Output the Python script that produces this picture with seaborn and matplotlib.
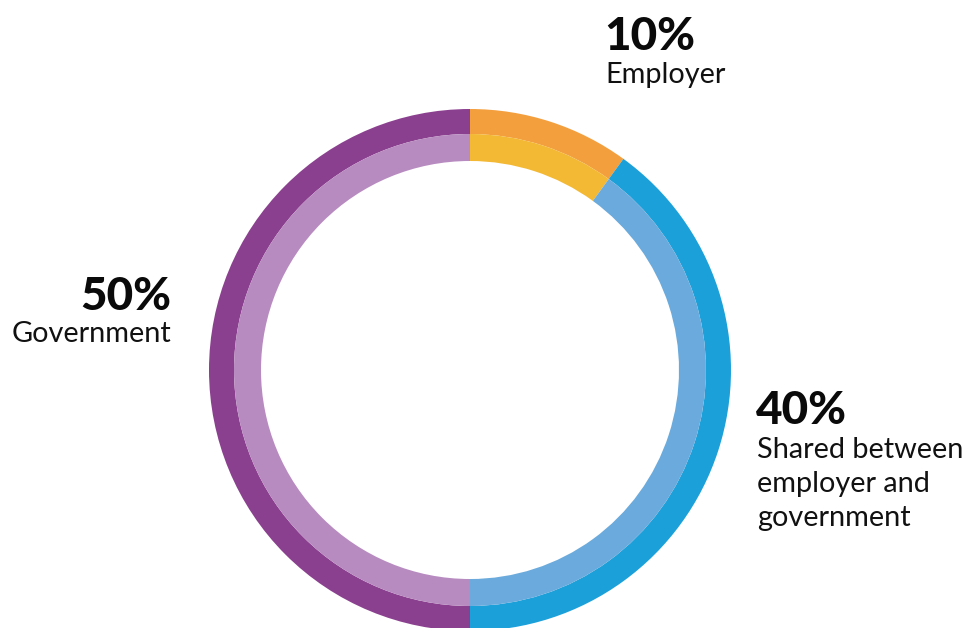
import matplotlib
matplotlib.use("Agg")
import matplotlib.pyplot as plt
import seaborn as sns

# Who pays: share of cost by payer
payers = ["Employer", "Shared between\nemployer and\ngovernment", "Government"]
shares = [10, 40, 50]
pct_labels = ["10%", "40%", "50%"]

outer_colors = ["#F49F3E", "#1BA0DA", "#8B3F8F"]
inner_colors = ["#F3B935", "#6AAADC", "#B88BC0"]

sns.set_theme(style="white")
plt.rcParams["font.family"] = ["Lato", "DejaVu Sans"]

W, H = 967, 628
fig = plt.figure(figsize=(W / 100, H / 100), dpi=100)
ax = fig.add_axes([0, 0, 1, 1])

cx, cy = 470, H - 370

# Two concentric rings: darker outer band, lighter inner band
ax.pie(shares, colors=outer_colors, radius=261, center=(cx, cy),
       startangle=90, counterclock=False,
       wedgeprops=dict(width=25, linewidth=0))
ax.pie(shares, colors=inner_colors, radius=236, center=(cx, cy),
       startangle=90, counterclock=False,
       wedgeprops=dict(width=27, linewidth=0))
ax.set_xlim(0, W)
ax.set_ylim(0, H)
ax.set_aspect("equal")
ax.axis("off")

pct_kw = dict(fontsize=33, fontweight="black", color="#0a0a0a", va="baseline")
lab_kw = dict(fontsize=20.8, color="#111111", va="baseline")
line_gap = 34

# Employer
ax.text(604, H - 50, pct_labels[0], ha="left", **pct_kw)
ax.text(605, H - 83, payers[0], ha="left", **lab_kw)

# Shared between employer and government
ax.text(756, H - 424, pct_labels[1], ha="left", **pct_kw)
for i, line in enumerate(payers[1].split("\n")):
    ax.text(757, H - (458 + line_gap * i), line, ha="left", **lab_kw)

# Government
ax.text(171, H - 310, pct_labels[2], ha="right", **pct_kw)
ax.text(171, H - 342, payers[2], ha="right", **lab_kw)

fig.savefig("out.png", dpi=100, facecolor="white")
